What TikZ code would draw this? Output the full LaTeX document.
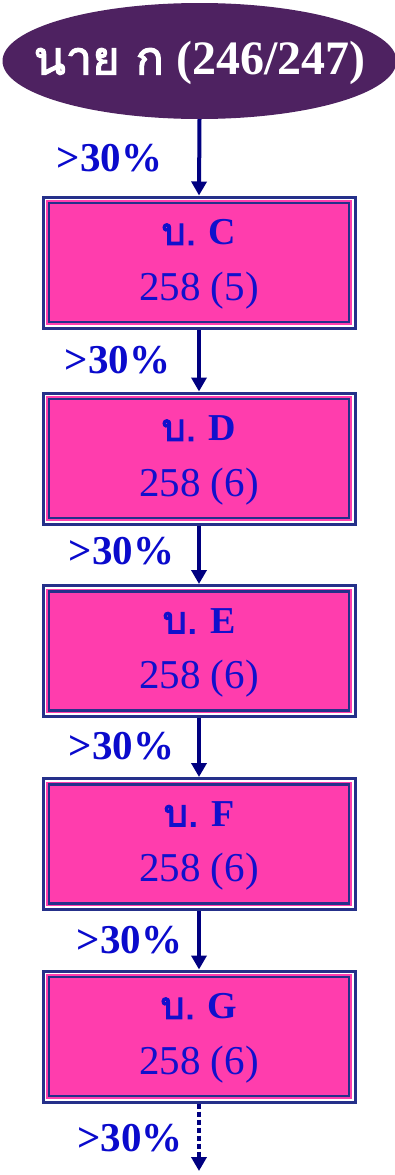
\documentclass[tikz,border=0pt]{standalone}
\usepackage{fontspec}
\setmainfont{Liberation Serif}
\newfontfamily\thai[Script=Thai, AutoFakeBold=2.5]{Loma}
\usetikzlibrary{shapes.geometric,arrows.meta}
\definecolor{purp}{HTML}{4E2261}
\definecolor{pinkf}{HTML}{FF3DAD}
\definecolor{navyb}{HTML}{25308A}
\definecolor{arrc}{HTML}{000080}
\definecolor{txtb}{HTML}{1010CC}
\definecolor{lblb}{HTML}{0A0ACC}
\tikzset{
  x=1pt, y=-1pt,
  outerbox/.style={rectangle, draw=navyb, line width=3pt, fill=white,
    minimum width=312pt, minimum height=131pt, inner sep=0pt},
  innerbox/.style={rectangle, fill=pinkf, draw=navyb, line width=2.5pt,
    preaction={draw=pinkf, line width=5.5pt},
    minimum width=300pt, minimum height=119pt, inner sep=0pt},
  titletxt/.style={text=txtb, font=\fontsize{38}{40}\selectfont\bfseries, inner sep=0pt, anchor=center},
  numtxt/.style={text=txtb, font=\fontsize{41}{43}\selectfont, inner sep=0pt, anchor=center},
  pct/.style={text=lblb, font=\fontsize{41}{43}\selectfont\bfseries, inner sep=0pt, anchor=center},
  arr/.style={draw=arrc, line width=4pt, -{Triangle[width=15pt,length=14pt]}},
}
\begin{document}
\begin{tikzpicture}
\useasboundingbox (0,0) rectangle (395,1175);
\node[ellipse, fill=purp, minimum width=394pt, minimum height=116pt, inner sep=0pt] (top) at (199.5,61) {};
\node[text=white, font=\fontsize{48}{50}\selectfont\bfseries, inner sep=0pt] (toptxt) at (199.5,63) {{\thai\fontsize{47}{50}\selectfont นาย ก} (246/247)};
% boxes
\foreach \n/\y/\name/\num in {c/262.5/C/5, d/458.5/D/6, e/651/E/6, f/844/F/6, g/1036.5/G/6}{
  \node[outerbox] (\n) at (199,\y) {};
  \node[innerbox] (\n i) at (\n.center) {};
  \node[titletxt] (\n t) at ([yshift=30pt]\n.center) {{\thai บ.} \name};
  \node[numtxt] (\n n) at ([yshift=-28pt]\n.center) {258 (\num)};
}
\coordinate (end) at (199,1171);
\draw[arr] (top.south) -- (c.north);
\draw[arr] (c.south) -- (d.north);
\draw[arr] (d.south) -- (e.north);
\draw[arr] (e.south) -- (f.north);
\draw[arr] (f.south) -- (g.north);
\draw[arr, dash pattern=on 5pt off 3pt] (g.south) -- (end);
% labels
\node[pct] (l1) at (109.5,158) {>30\%};
\node[pct] (l2) at (117.5,360) {>30\%};
\node[pct] (l3) at (121.5,551) {>30\%};
\node[pct] (l4) at (121.5,746) {>30\%};
\node[pct] (l5) at (129.5,940) {>30\%};
\node[pct] (l6) at (130,1138) {>30\%};
\end{tikzpicture}
\end{document}
